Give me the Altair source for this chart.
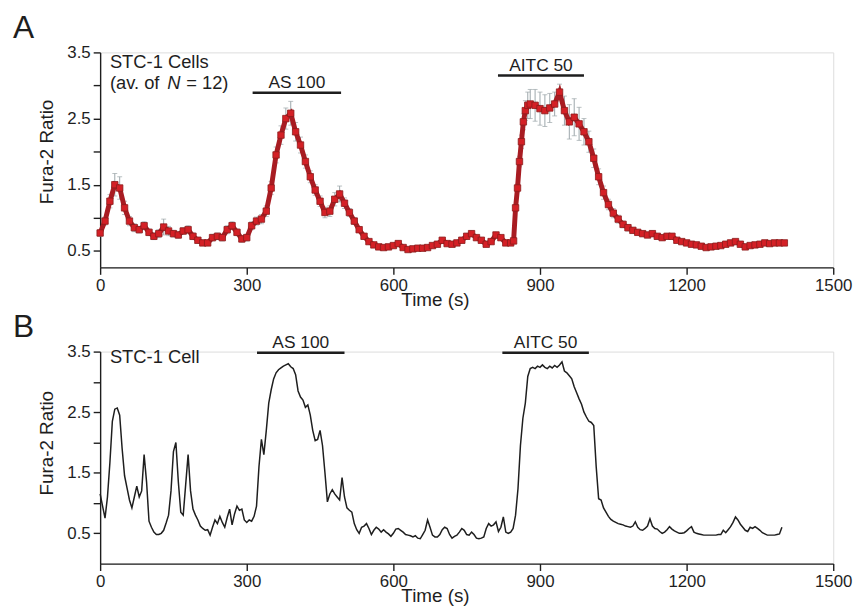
import altair as alt
import pandas as pd

FONT = "Liberation Sans"
INK = "#1e1e1e"
ERR = "#9ca6aa"
RED = "#d42026"

# ---------------- Panel A: average of N = 12 cells ----------------
a_time = list(range(0, 850, 10)) + [846, 850, 854, 858, 862, 866, 870, 875] + list(range(880, 1410, 10))
a_ratio = [
    0.77, 0.95, 1.25, 1.50, 1.45, 1.15, 0.95, 0.85, 0.82, 0.88,
    0.78, 0.72, 0.76, 0.86, 0.80, 0.76, 0.74, 0.80, 0.82, 0.72,
    0.66, 0.62, 0.62, 0.70, 0.72, 0.70, 0.82, 0.88, 0.78, 0.68,
    0.70, 0.88, 0.95, 0.98, 1.10, 1.45, 1.95, 2.25, 2.50, 2.58,
    2.30, 2.10, 1.85, 1.62, 1.42, 1.25, 1.08, 1.10, 1.28, 1.36,
    1.22, 1.08, 0.95, 0.82, 0.72, 0.64, 0.59, 0.56, 0.55, 0.56,
    0.58, 0.61, 0.55, 0.52, 0.53, 0.54, 0.54, 0.55, 0.58, 0.60,
    0.66, 0.61, 0.60, 0.62, 0.66, 0.72, 0.76, 0.70, 0.66, 0.60,
    0.64, 0.74, 0.70, 0.62, 0.62,
    0.65, 1.15, 1.45, 1.85, 2.15, 2.45, 2.62, 2.70,
    2.72, 2.70, 2.65, 2.62, 2.66, 2.72, 2.90, 2.62, 2.45, 2.52,
    2.42, 2.30, 2.15, 1.90, 1.62, 1.38, 1.20, 1.07, 0.98, 0.90,
    0.85, 0.81, 0.78, 0.76, 0.74, 0.76, 0.72, 0.70, 0.72, 0.72,
    0.66, 0.64, 0.62, 0.60, 0.59, 0.57, 0.55, 0.56, 0.57, 0.58,
    0.60, 0.62, 0.64, 0.60, 0.56, 0.58, 0.59, 0.60, 0.62, 0.61,
    0.62, 0.62, 0.62,
]
a_sem = [
    0.05, 0.06, 0.10, 0.17, 0.17, 0.10, 0.07, 0.06, 0.05, 0.06,
    0.05, 0.05, 0.06, 0.12, 0.07, 0.05, 0.05, 0.05, 0.06, 0.05,
    0.04, 0.04, 0.04, 0.05, 0.05, 0.05, 0.06, 0.06, 0.05, 0.05,
    0.05, 0.06, 0.06, 0.07, 0.08, 0.10, 0.12, 0.14, 0.16, 0.18,
    0.14, 0.12, 0.10, 0.09, 0.08, 0.08, 0.08, 0.08, 0.10, 0.12,
    0.08, 0.06, 0.05, 0.04, 0.04, 0.03, 0.03, 0.03, 0.03, 0.03,
    0.03, 0.04, 0.03, 0.03, 0.03, 0.03, 0.03, 0.03, 0.03, 0.03,
    0.03, 0.03, 0.03, 0.03, 0.04, 0.04, 0.04, 0.03, 0.03, 0.03,
    0.03, 0.04, 0.03, 0.03, 0.03,
    0.04, 0.05, 0.06, 0.08, 0.10, 0.12, 0.15, 0.20,
    0.22, 0.24, 0.25, 0.24, 0.22, 0.18, 0.12, 0.22, 0.26, 0.28,
    0.25, 0.20, 0.16, 0.14, 0.12, 0.10, 0.08, 0.07, 0.06, 0.05,
    0.05, 0.04, 0.04, 0.04, 0.04, 0.04, 0.04, 0.04, 0.04, 0.04,
    0.03, 0.03, 0.03, 0.03, 0.03, 0.03, 0.03, 0.03, 0.03, 0.03,
    0.03, 0.03, 0.03, 0.03, 0.03, 0.03, 0.03, 0.03, 0.03, 0.03,
    0.03, 0.03, 0.03,
]

a_stim_label = ["AS 100", "AITC 50"]
a_stim_start = [312, 814]
a_stim_end = [493, 990]
a_stim_level = [2.89, 3.15]

# ---------------- Panel B: single cell ----------------
b_time = list(range(0, 1400, 5))
b_ratio = [
    1.15, 0.95, 0.75, 1.10, 1.67, 2.35, 2.55, 2.57, 2.45, 1.90,
    1.45, 1.25, 1.05, 0.92, 1.10, 1.28, 1.10, 1.20, 1.80, 1.35,
    0.70, 0.60, 0.52, 0.48, 0.48, 0.50, 0.55, 0.67, 0.80, 1.20,
    1.85, 2.00, 1.35, 0.85, 0.80, 1.30, 1.80, 1.20, 0.90, 0.80,
    0.72, 0.62, 0.58, 0.55, 0.56, 0.47, 0.60, 0.72, 0.66, 0.78,
    0.68, 0.60, 0.76, 0.90, 0.64, 0.82, 0.95, 0.88, 0.90, 0.72,
    0.68, 0.72, 0.70, 0.78, 0.95, 1.60, 2.05, 1.80, 2.20, 2.65,
    2.87, 3.05, 3.15, 3.20, 3.23, 3.26, 3.28, 3.30, 3.25, 3.22,
    3.12, 2.85, 2.75, 2.70, 2.58, 2.62, 2.45, 2.20, 2.03, 2.05,
    2.20, 1.95, 1.50, 1.02, 1.15, 1.22, 1.15, 1.10, 1.05, 1.42,
    1.10, 0.92, 0.88, 0.85, 0.66, 0.56, 0.50, 0.60, 0.62, 0.66,
    0.58, 0.48, 0.55, 0.60, 0.57, 0.52, 0.56, 0.52, 0.49, 0.45,
    0.50, 0.57, 0.58, 0.55, 0.52, 0.48, 0.47, 0.46, 0.44, 0.46,
    0.42, 0.41, 0.48, 0.55, 0.72, 0.60, 0.47, 0.44, 0.44, 0.48,
    0.56, 0.60, 0.58, 0.48, 0.42, 0.45, 0.47, 0.52, 0.58, 0.55,
    0.48, 0.47, 0.52, 0.48, 0.42, 0.41, 0.42, 0.44, 0.58, 0.66,
    0.62, 0.64, 0.69, 0.53, 0.60, 0.77, 0.52, 0.50, 0.52, 0.58,
    0.80, 1.24, 1.95, 2.40, 2.65, 3.09, 3.22, 3.24, 3.22, 3.26,
    3.24, 3.28, 3.24, 3.22, 3.26, 3.23, 3.27, 3.24, 3.28, 3.33,
    3.18, 3.15, 3.10, 3.05, 2.92, 2.82, 2.72, 2.63, 2.50, 2.42,
    2.35, 2.33, 2.28, 1.60, 1.07, 1.05, 0.92, 0.85, 0.78, 0.73,
    0.70, 0.68, 0.66, 0.65, 0.64, 0.62, 0.61, 0.60, 0.62, 0.69,
    0.60, 0.56, 0.55, 0.58, 0.62, 0.74, 0.62, 0.58, 0.57, 0.53,
    0.50, 0.52, 0.56, 0.61, 0.57, 0.54, 0.52, 0.50, 0.50, 0.51,
    0.54, 0.58, 0.61, 0.52, 0.50, 0.49, 0.48, 0.47, 0.47, 0.47,
    0.47, 0.47, 0.47, 0.48, 0.48, 0.55, 0.51, 0.56, 0.61, 0.68,
    0.77, 0.72, 0.65, 0.60, 0.55, 0.53, 0.60, 0.58, 0.61, 0.58,
    0.55, 0.51, 0.49, 0.47, 0.47, 0.47, 0.47, 0.48, 0.49, 0.60,
]

b_stim_label = ["AS 100", "AITC 50"]
b_stim_start = [321, 823]
b_stim_end = [500, 1000]
b_stim_level = [3.48, 3.48]

x_ticks = [0, 300, 600, 900, 1200, 1500]
y_ticks = [0.5, 1.0, 1.5, 2.0, 2.5, 3.0, 3.5]


def x_axis():
    return alt.Axis(values=x_ticks, format="d", title="Time (s)", titleX=338, titleY=38,
                    titleBaseline="alphabetic", titleAlign="center", titleFontSize=19,
                    titleFontWeight="normal", titleFont=FONT, titleColor=INK,
                    labelFontSize=17, labelFont=FONT, labelColor=INK, labelPadding=3,
                    labelFlush=False, tickSize=7, tickWidth=1.4, tickColor=INK,
                    domainColor=INK, domainWidth=1.4, grid=False)


def y_axis(title_y):
    return alt.Axis(values=y_ticks,
                    labelExpr="datum.value % 1 == 0.5 ? format(datum.value, '.1f') : ''",
                    title="Fura-2 Ratio", titleX=-54, titleY=title_y, titleAngle=-90,
                    titleBaseline="middle", titleAlign="center", titleFontSize=19,
                    titleFontWeight="normal", titleFont=FONT, titleColor=INK,
                    labelFontSize=17, labelFont=FONT, labelColor=INK, labelPadding=3,
                    tickSize=7, tickWidth=1.4, tickColor=INK,
                    domainColor=INK, domainWidth=1.4, grid=False)


def panel(letter, ydom, height, title_y, layers_fn):
    xs = alt.Scale(domain=[0, 1500], nice=False, zero=False)
    ys = alt.Scale(domain=ydom, nice=False, zero=False)

    def X(field):
        return alt.X(field, scale=xs, axis=x_axis())

    def Y(field):
        return alt.Y(field, scale=ys, axis=y_axis(title_y))

    layers = layers_fn(X, Y)
    lab = alt.Chart(pd.DataFrame({"lab": [letter]})).mark_text(
        align="left", baseline="top", fontSize=32, font=FONT, color=INK
    ).encode(x=alt.value(-88), y=alt.value(-40), text="lab:N")
    return alt.layer(*layers, lab).properties(width=740, height=height)


def stim_layers(X, Y, labels, starts, ends, levels):
    df = pd.DataFrame({"label": labels, "start": starts, "end": ends, "level": levels})
    df["mid"] = (df["start"] + df["end"]) / 2
    bar = alt.Chart(df).mark_rule(color=INK, strokeWidth=2.5).encode(
        x=X("start:Q"), x2="end:Q", y=Y("level:Q"))
    txt = alt.Chart(df).mark_text(fontSize=17.5, font=FONT, color=INK, baseline="alphabetic",
                                  align="center", dy=-5).encode(
        x=X("mid:Q"), y=Y("level:Q"), text="label:N")
    return [bar, txt]


def layers_a(X, Y):
    df = pd.DataFrame({"t": a_time, "r": a_ratio, "sem": a_sem})
    df["lo"] = df["r"] - df["sem"]
    df["hi"] = df["r"] + df["sem"]
    base = alt.Chart(df)
    err = base.mark_rule(color=ERR, strokeWidth=1).encode(x=X("t:Q"), y=Y("lo:Q"), y2="hi:Q")
    cap_hi = base.mark_tick(orient="horizontal", size=5, thickness=1, color=ERR).encode(
        x=X("t:Q"), y=Y("hi:Q"))
    cap_lo = base.mark_tick(orient="horizontal", size=5, thickness=1, color=ERR).encode(
        x=X("t:Q"), y=Y("lo:Q"))
    trace = base.mark_line(color="#a81c22", strokeWidth=5).encode(x=X("t:Q"), y=Y("r:Q"))
    pts = base.mark_square(size=42, color=RED, fill=RED, stroke="#8a1c1c", strokeWidth=0.8,
                           opacity=1).encode(x=X("t:Q"), y=Y("r:Q"))
    note = pd.DataFrame({"t": [20, 20, 20, 20], "v": [3.27, 2.95, 2.95, 2.95],
                         "s": ["STC-1 Cells", "(av. of", "N", "= 12)"]})
    n1 = alt.Chart(note.iloc[[0, 1]]).mark_text(align="left", baseline="alphabetic", fontSize=18.5,
                                                 font=FONT, color=INK).encode(
        x=X("t:Q"), y=Y("v:Q"), text="s:N")
    n2 = alt.Chart(note.iloc[[2]]).mark_text(align="left", baseline="alphabetic", fontSize=18.5,
                                              font=FONT, color=INK, fontStyle="italic",
                                              dx=58).encode(x=X("t:Q"), y=Y("v:Q"), text="s:N")
    n3 = alt.Chart(note.iloc[[3]]).mark_text(align="left", baseline="alphabetic", fontSize=18.5,
                                              font=FONT, color=INK, dx=77).encode(
        x=X("t:Q"), y=Y("v:Q"), text="s:N")
    return [err, cap_hi, cap_lo, trace, pts, n1, n2, n3] + stim_layers(
        X, Y, a_stim_label, a_stim_start, a_stim_end, a_stim_level)


def layers_b(X, Y):
    df = pd.DataFrame({"t": b_time, "r": b_ratio})
    line = alt.Chart(df).mark_line(color=INK, strokeWidth=1.5).encode(x=X("t:Q"), y=Y("r:Q"))
    note = pd.DataFrame({"t": [20], "v": [3.31], "s": ["STC-1 Cell"]})
    n1 = alt.Chart(note).mark_text(align="left", baseline="alphabetic", fontSize=18.5, font=FONT,
                                   color=INK).encode(x=X("t:Q"), y=Y("v:Q"), text="s:N")
    return [line, n1] + stim_layers(X, Y, b_stim_label, b_stim_start, b_stim_end, b_stim_level)


panel_a = panel("A", [0.25, 3.5], 217, 100, layers_a)
panel_b = panel("B", [0, 3.5], 214, 92, layers_b)

chart = alt.vconcat(panel_a, panel_b, spacing=0).properties(
    padding={"left": 4, "top": 0, "right": 5, "bottom": 0}
).configure_view(stroke=None).configure(background="white")

chart.save("out.html", embed_options={"renderer": "svg", "actions": False})
